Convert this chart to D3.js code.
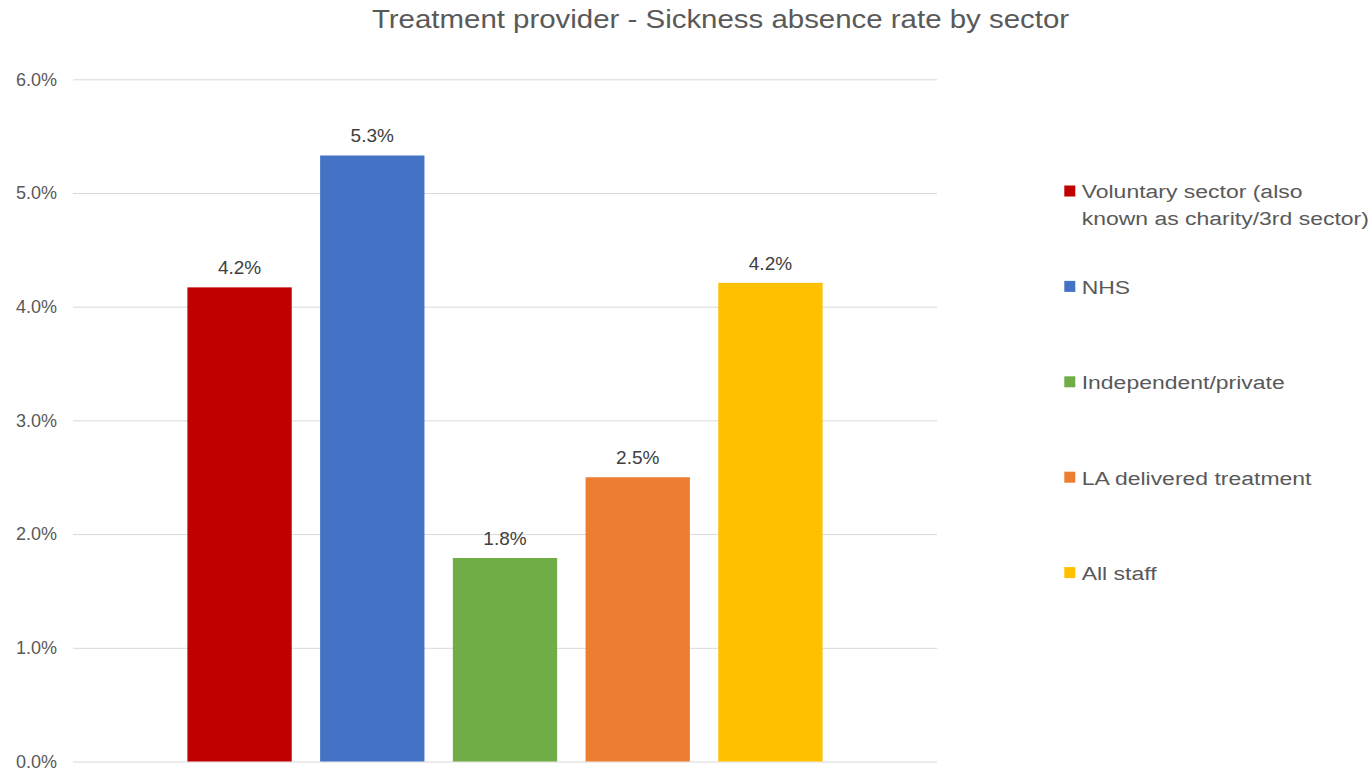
<!DOCTYPE html>
<html>
<head>
<meta charset="utf-8">
<script src="https://cdn.jsdelivr.net/npm/d3@7"></script>
<style>
  body { margin: 0; background: #fff; }
  svg { font-family: "Liberation Sans", Arial, sans-serif; }
</style>
</head>
<body>
<div id="chart"></div>
<script>
var sectors = ["Voluntary sector (also known as charity/3rd sector)", "NHS", "Independent/private", "LA delivered treatment", "All staff"];
var legendLines = [["Voluntary sector (also", "known as charity/3rd sector)"], ["NHS"], ["Independent/private"], ["LA delivered treatment"], ["All staff"]];
var rates = [0.0417, 0.0533, 0.0179, 0.0250, 0.0421];
var colours = ["#C00000", "#4472C4", "#70AD47", "#ED7D31", "#FFC000"];
var yTicks = [0, 0.01, 0.02, 0.03, 0.04, 0.05, 0.06];

function init(){
  var w = 1371;
  var h = 768;
  var left = 73, right = 937, top = 79.3, bottom = 761.5;

  var svg = d3.select("#chart")
              .append("svg")
              .attr("width", w)
              .attr("height", h);

  // the source image text is a bit stretched sideways
  svg.append("g")
     .attr("transform", "translate(720.5,27.5) scale(1.177,1)")
     .append("text")
     .attr("text-anchor", "middle")
     .attr("font-size", 25)
     .attr("fill", "#595959")
     .text("Treatment provider - Sickness absence rate by sector");

  var yScale = d3.scaleLinear()
                 .domain([0, 0.06])
                 .range([bottom, top]);

  // single category, bars clustered in the middle
  var groupScale = d3.scaleBand()
                     .domain(["all"])
                     .range([left, right])
                     .paddingOuter(0.151)
                     .paddingInner(0);

  var xScale = d3.scaleBand()
                 .domain(d3.range(sectors.length))
                 .range([groupScale("all"), groupScale("all") + groupScale.bandwidth()])
                 .paddingInner(0.214)
                 .paddingOuter(0.107);

  var yAxis = d3.axisLeft(yScale)
                .tickValues(yTicks)
                .tickFormat(d3.format(".1%"))
                .tickSize(-(right - left))
                .tickPadding(16);

  var gy = svg.append("g")
     .attr("transform", "translate(" + left + ",0)")
     .call(yAxis);
  gy.select(".domain").remove();
  gy.selectAll(".tick line")
    .attr("stroke", "#D9D9D9")
    .attr("stroke-width", 1);
  gy.selectAll(".tick text")
    .attr("fill", "#595959")
    .attr("font-size", 18)
    .attr("font-family", "Liberation Sans, Arial, sans-serif");

  svg.selectAll("rect.bar")
     .data(rates)
     .enter()
     .append("rect")
     .attr("class", "bar")
     .attr("x", function(d, i){ return xScale(i); })
     .attr("y", function(d){ return yScale(d); })
     .attr("width", xScale.bandwidth())
     .attr("height", function(d){ return yScale(0) - yScale(d); })
     .attr("fill", function(d, i){ return colours[i]; });

  svg.selectAll("text.label")
     .data(rates)
     .enter()
     .append("text")
     .attr("class", "label")
     .attr("x", function(d, i){ return xScale(i) + xScale.bandwidth() / 2; })
     .attr("y", function(d){ return yScale(d) - 13; })
     .attr("text-anchor", "middle")
     .attr("font-size", 19)
     .attr("fill", "#404040")
     .text(function(d){ return d3.format(".1%")(d); });

  var legend = svg.selectAll("g.legend")
     .data(legendLines)
     .enter()
     .append("g")
     .attr("class", "legend")
     .attr("transform", function(d, i){ return "translate(1064.3," + (191 + i * 95.4) + ")"; });

  legend.append("rect")
     .attr("x", 0)
     .attr("y", -5.5)
     .attr("width", 11)
     .attr("height", 11)
     .attr("fill", function(d, i){ return colours[i]; });

  legend.append("g")
     .attr("transform", "translate(17.4,0) scale(1.235,1)")
     .selectAll("text")
     .data(function(d){ return d; })
     .enter()
     .append("text")
     .attr("x", 0)
     .attr("y", function(d, j){ return 7.3 + j * 27; })
     .attr("font-size", 18.6)
     .attr("fill", "#595959")
     .text(function(d){ return d; });
}

window.onload = init;
</script>
</body>
</html>
